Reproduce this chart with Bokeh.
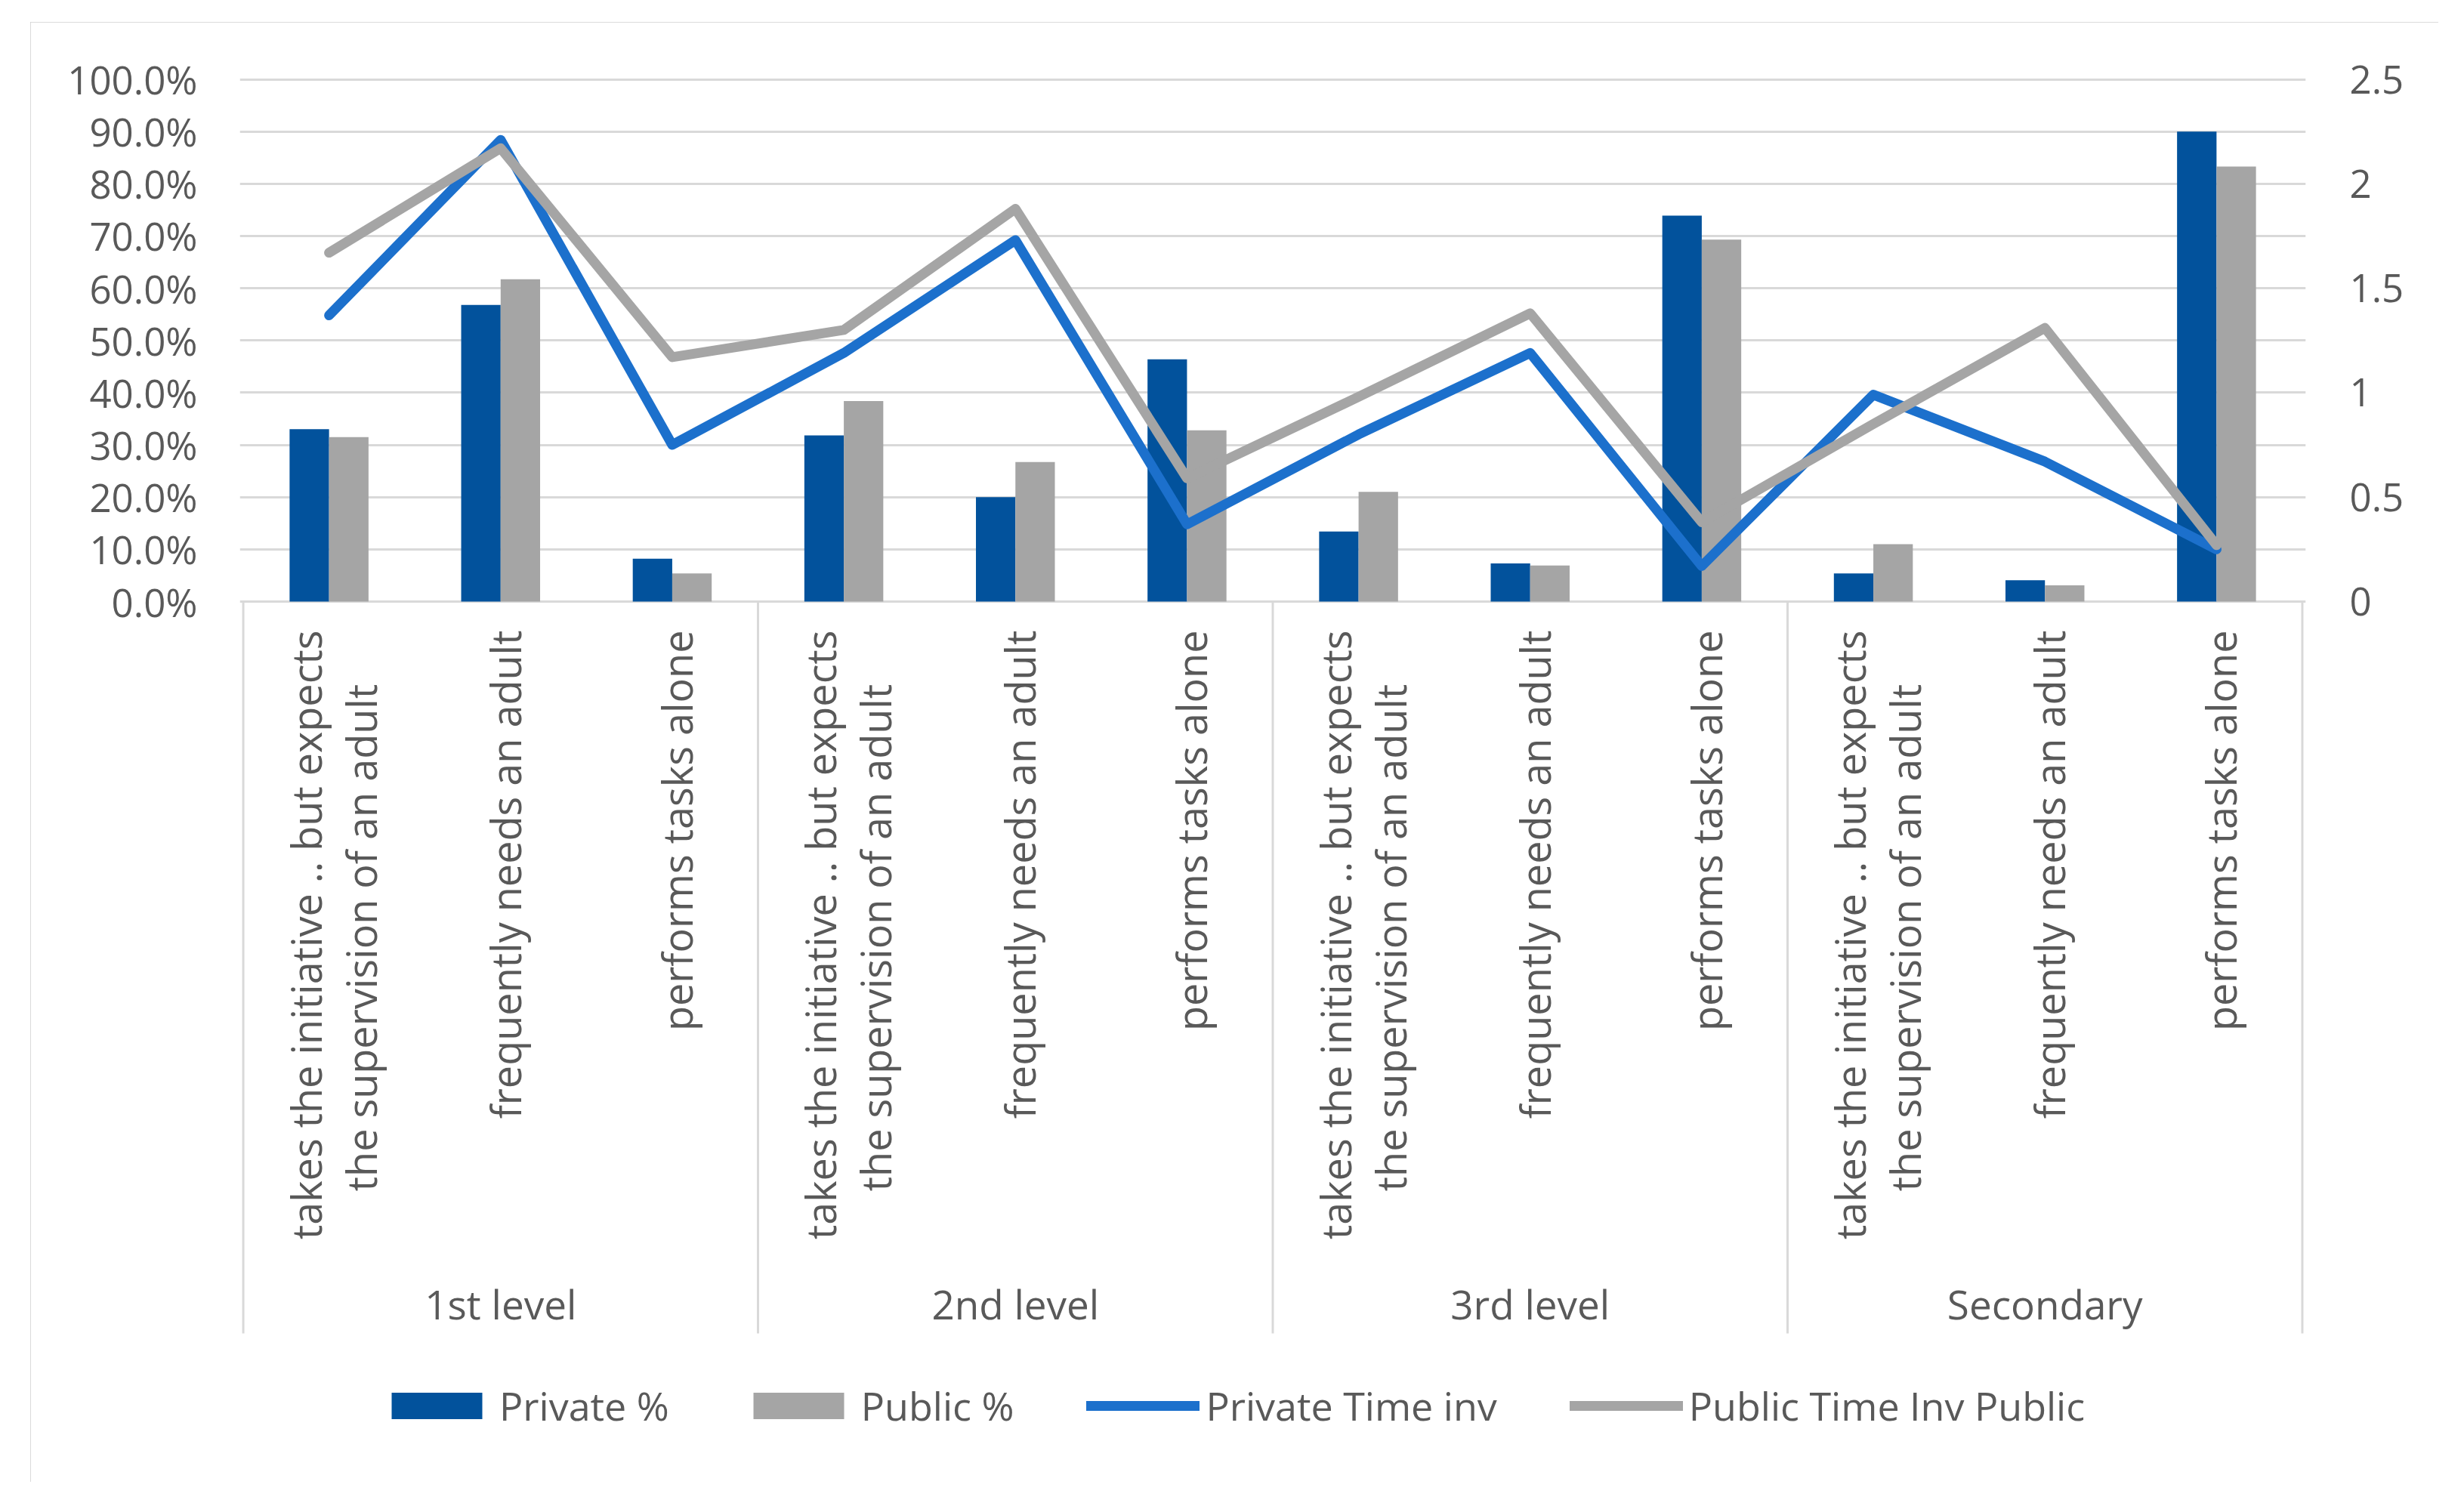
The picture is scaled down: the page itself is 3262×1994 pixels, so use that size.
import numpy as np
from bokeh.plotting import figure
from bokeh.models import (ColumnDataSource, Range1d, LinearAxis, FixedTicker,
                          NumeralTickFormatter, Legend, LegendItem)
from bokeh.core.properties import value
from bokeh.embed import file_html
from bokeh.resources import INLINE

# ---------------- data ----------------
groups = ["1st level", "2nd level", "3rd level", "Secondary"]
levels = [["takes the initiative .. but expects", "the supervision of an adult"],
          ["frequently needs an adult"],
          ["performs tasks alone"]]
private_pct = [33.0, 56.8, 8.2, 31.8, 20.0, 46.4, 13.4, 7.3, 73.9, 5.4, 4.1, 90.0]
public_pct = [31.5, 61.7, 5.4, 38.4, 26.7, 32.8, 21.0, 6.9, 69.3, 11.0, 3.1, 83.3]
private_time = [1.37, 2.21, 0.75, 1.19, 1.73, 0.37, 0.80, 1.19, 0.17, 0.99, 0.67, 0.25]
public_time = [1.67, 2.17, 1.17, 1.30, 1.88, 0.59, 0.98, 1.38, 0.38, 0.85, 1.31, 0.27]
left_ticks = [0.0, 0.1, 0.2, 0.3, 0.4, 0.5, 0.6, 0.7, 0.8, 0.9, 1.0]
right_ticks = [0.0, 0.5, 1.0, 1.5, 2.0, 2.5]
series_names = ["Private %", "Public %", "Private Time inv", "Public Time Inv Public"]

# ---------------- layout constants (page pixels) ----------------
FIG_W, FIG_H = 3188, 1933
MB_L, MB_R, MB_T, MB_B = 277, 176, 35, 6
MARGIN_T, MARGIN_L = 29, 40
PAGE_Y0 = MARGIN_T          # figure top on page
Y_ZERO, Y_ONE = 796.0, 104.5
PPU = Y_ZERO - Y_ONE        # pixels per unit (left axis)
frame_top = PAGE_Y0 + MB_T
frame_bot = PAGE_Y0 + FIG_H - MB_B
y_hi = (Y_ZERO - frame_top) / PPU
y_lo = -(frame_bot - Y_ZERO) / PPU
RMAX = right_ticks[-1]


def py(page_y):
    return (Y_ZERO - page_y) / PPU


TEXT = "#595959"
GRID = "#D9D9D9"
FONT = "Open Sans"

n = len(private_pct)
centers = np.arange(n) + 0.5
bw = 0.23

p = figure(width=FIG_W, height=FIG_H, output_backend="svg", toolbar_location=None,
           x_range=Range1d(-0.02, n + 0.02), y_range=Range1d(y_lo, y_hi),
           x_axis_location=None,
           min_border_left=MB_L, min_border_right=MB_R,
           min_border_top=MB_T, min_border_bottom=MB_B)
p.extra_y_ranges = {"right": Range1d(y_lo * RMAX, y_hi * RMAX)}
p.outline_line_color = None
p.background_fill_color = "white"
p.border_fill_color = "white"
p.margin = (MARGIN_T, 0, 0, MARGIN_L)
p.styles = {"outline": "5px solid #CFCFCF", "outline-offset": "-5px"}
for g in p.xgrid:
    g.grid_line_color = None
    g.visible = False

# left axis
ya = p.yaxis[0]
ya.ticker = FixedTicker(ticks=left_ticks)
ya.formatter = NumeralTickFormatter(format="0.0%")
ya.axis_line_color = None
ya.major_tick_line_color = None
ya.minor_tick_line_color = None
ya.major_tick_out = 0
ya.major_label_standoff = 56
ya.major_label_text_font = FONT
ya.major_label_text_font_size = "51px"
ya.major_label_text_color = TEXT

p.ygrid.ticker = FixedTicker(ticks=left_ticks)
p.ygrid.grid_line_color = GRID
p.ygrid.grid_line_width = 3

ra = LinearAxis(y_range_name="right", ticker=FixedTicker(ticks=right_ticks),
                formatter=NumeralTickFormatter(format="0.[0]"))
ra.axis_line_color = None
ra.major_tick_line_color = None
ra.minor_tick_line_color = None
ra.major_tick_out = 0
ra.major_label_standoff = 58
ra.major_label_text_font = FONT
ra.major_label_text_font_size = "51px"
ra.major_label_text_color = TEXT
p.add_layout(ra, "right")

# bars
src = ColumnDataSource(dict(
    xp=centers - bw / 2, xq=centers + bw / 2, xc=centers,
    priv=np.array(private_pct) / 100.0, pub=np.array(public_pct) / 100.0,
    ptime=private_time, qtime=public_time))
r1 = p.vbar(x="xp", top="priv", bottom=0, width=bw, source=src,
            fill_color="#02529C", line_color=None)
r2 = p.vbar(x="xq", top="pub", bottom=0, width=bw, source=src,
            fill_color="#A5A5A5", line_color=None)
r3 = p.line(x="xc", y="ptime", source=src, y_range_name="right",
            line_color="#1C70CC", line_width=13, line_join="round", line_cap="round")
r4 = p.line(x="xc", y="qtime", source=src, y_range_name="right",
            line_color="#A5A5A5", line_width=13, line_join="round", line_cap="round")

# group separators (multi-level category axis)
bounds = [3 * i for i in range(len(groups) + 1)]
p.segment(x0=bounds, x1=bounds, y0=[0] * len(bounds), y1=[py(1765)] * len(bounds),
          line_color=GRID, line_width=3)

# category labels
x1, xo1, y1, al1, t1 = [], [], [], [], []
for gi, g in enumerate(groups):
    for li, lines in enumerate(levels):
        c = centers[gi * 3 + li]
        if len(lines) == 2:
            x1 += [c, c]
            xo1 += [-31, 42]
            y1 += [py(834), py(1241)]
            al1 += ["right", "center"]
            t1 += lines
        else:
            x1.append(c)
            xo1.append(6)
            y1.append(py(834))
            al1.append("right")
            t1.append(lines[0])
lab_src = ColumnDataSource(dict(x=x1, xo=xo1, y=y1, al=al1, t=t1))
p.text(x="x", y="y", text="t", x_offset="xo", text_align="al", source=lab_src,
       angle=np.pi / 2, text_baseline="alphabetic", text_font=value(FONT),
       text_font_size="54px", text_color=TEXT)

# group labels
gsrc = ColumnDataSource(dict(x=[3 * i + 1.5 for i in range(len(groups))],
                             y=[py(1726)] * len(groups), t=groups))
p.text(x="x", y="y", text="t", source=gsrc, text_align="center",
       text_baseline="alphabetic", text_font=value(FONT),
       text_font_size="53px", text_color=TEXT)

# legend
legend = Legend(items=[LegendItem(label=series_names[0], renderers=[r1]),
                       LegendItem(label=series_names[1], renderers=[r2]),
                       LegendItem(label=series_names[2], renderers=[r3]),
                       LegendItem(label=series_names[3], renderers=[r4])],
                orientation="horizontal", location=(186, 60),
                glyph_width=150, glyph_height=44, label_height=44,
                label_standoff=8, spacing=96, padding=0, margin=0,
                border_line_color=None, background_fill_alpha=0,
                label_text_font=FONT, label_text_font_size="52px",
                label_text_color=TEXT)
p.add_layout(legend)

open("out.html", "w").write(file_html(p, INLINE))
